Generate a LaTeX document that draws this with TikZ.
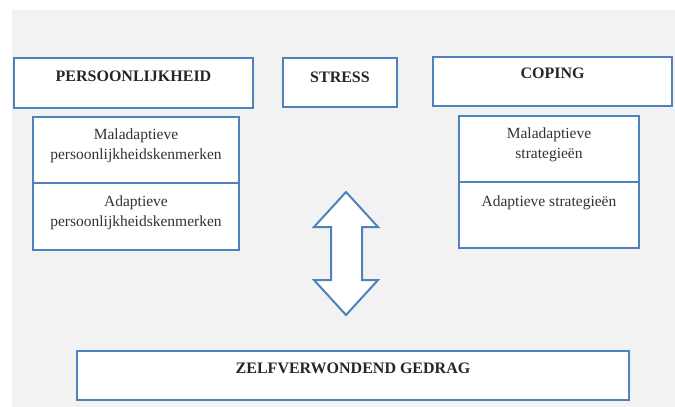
\documentclass[tikz,border=0pt]{standalone}
\usepackage{fontspec}
\setmainfont{Liberation Serif}
\usetikzlibrary{positioning}
\definecolor{boxblue}{HTML}{4F81BD}
\definecolor{bggray}{HTML}{F2F2F2}
\begin{document}
\begin{tikzpicture}[x=1pt,y=-1pt,
  box/.style={draw=boxblue, line width=2.2pt, fill=white, inner sep=0pt, outer sep=0pt},
  titletext/.style={inner sep=0pt, font=\fontsize{16}{20}\selectfont\bfseries, text=black!85},
  bodytext/.style={inner sep=0pt, align=center, font=\fontsize{15.5}{20}\selectfont, text=black!80},
  bigarrow/.style={draw=boxblue, line width=2pt, fill=white, line join=miter}]
\useasboundingbox (0,0) rectangle (675,407);
\fill[bggray] (12,10) rectangle (675,407);

% top row
\node[box, minimum width=239pt, minimum height=50pt] (pers) at (133.5,83) {};
\node[box, minimum width=114pt, minimum height=49pt] (stress) at (340,82.5) {};
\node[box, minimum width=239pt, minimum height=49pt] (coping) at (552.5,81.5) {};
\node[titletext, below=13pt of pers.north] (perst) {PERSOONLIJKHEID};
\node[titletext, below=14pt of stress.north] (stresst) {STRESS};
\node[titletext, below=11pt of coping.north] (copingt) {COPING};

% sub boxes left
\node[box, minimum width=206pt, minimum height=66pt] (malp) at (136,150) {};
\node[box, minimum width=206pt, minimum height=67pt] (adp) at (136,216.5) {};
\node[bodytext, below=12pt of malp.north] (malpt) {Maladaptieve\\persoonlijkheidskenmerken};
\node[bodytext, below=13pt of adp.north] (adpt) {Adaptieve\\persoonlijkheidskenmerken};

% sub boxes right
\node[box, minimum width=180pt, minimum height=66pt] (mals) at (549,149) {};
\node[box, minimum width=180pt, minimum height=66pt] (ads) at (549,215) {};
\node[bodytext, below=12pt of mals.north] (malst) {Maladaptieve\\strategieën};
\node[bodytext, below=14pt of ads.north] (adst) {Adaptieve strategieën};

% bottom box
\node[box, minimum width=552pt, minimum height=49pt] (zelf) at (353,375.5) {};
\node[titletext, below=12pt of zelf.north] (zelft) {ZELFVERWONDEND GEDRAG};

% double arrow
\draw[bigarrow] (346,192) -- (378,227) -- (362,227) -- (362,280) -- (378,280)
  -- (346,315) -- (314,280) -- (331,280) -- (331,227) -- (314,227) -- cycle;
\end{tikzpicture}
\end{document}
